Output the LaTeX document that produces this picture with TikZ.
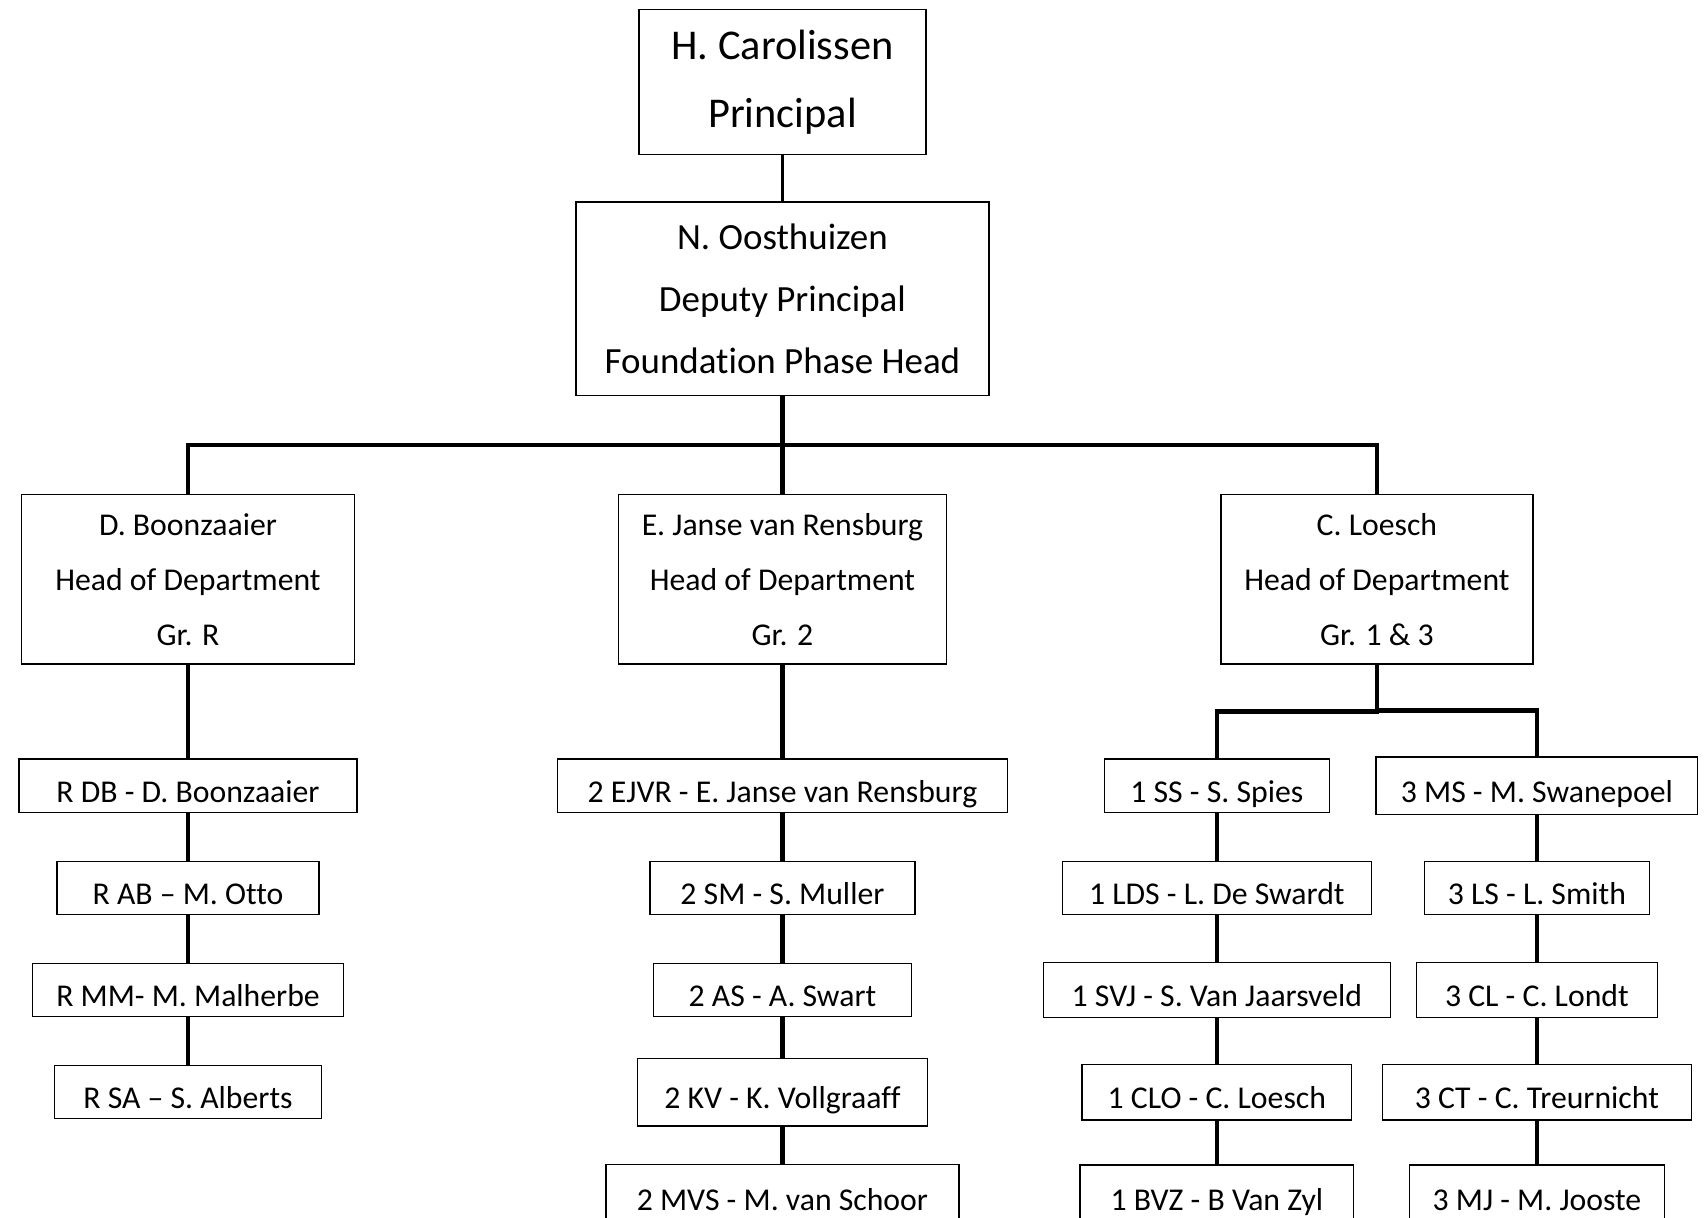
\documentclass[tikz,border=0pt]{standalone}
\usepackage{fontspec}
\setmainfont{Carlito}[Ligatures={TeX,NoCommon,NoContextual}, Contextuals=NoAlternate]
\usetikzlibrary{calc}

\begin{document}
\begin{tikzpicture}[
box/.style={rectangle, draw=black, line width=0.6pt, inner sep=0pt, align=center},
principal/.style={box, font=\fontsize{19.5}{31.5}\selectfont, minimum width=132pt, minimum height=66.5pt},
deputy/.style={box, font=\fontsize{17}{28.5}\selectfont, minimum width=190pt, minimum height=89pt},
hod/.style={box, font=\fontsize{14.6}{25.3}\selectfont, minimum height=78pt},
teacher/.style={box, font=\fontsize{14.6}{17}\selectfont, text height=15pt, text depth=0pt, minimum height=24.5pt},
orgfork/.style={edge from parent path={(\tikzparentnode.south) |- ($(\tikzparentnode.south)!0.5!(\tikzchildnode.north)$) -| (\tikzchildnode.north)}},
edge from parent/.style={draw, line width=1.6pt},
orgfork,
level 1/.style={level distance=99.75pt},
level 2/.style={sibling distance=273.5pt, level distance=129pt, edge from parent/.style={draw, line width=1.9pt}},
level 3/.style={sibling distance=147.25pt, level distance=95pt},
level 4/.style={level distance=47pt},
level 5/.style={level distance=47pt},
level 6/.style={level distance=47pt},
level 7/.style={level distance=47pt},
]
\useasboundingbox (0pt,0pt) rectangle (784pt,-560pt);
\node[principal] (HC) at (360pt,-37.75pt) {H. Carolissen\\Principal}
  child { node[deputy] (NO) {N. Oosthuizen\\Deputy Principal\\Foundation Phase Head}
    child { node[hod, minimum width=153pt] (HodR) {D. Boonzaaier\\Head of Department\\Gr. R}
      child { node[teacher, minimum width=155.5pt] (RDB) {R DB - D. Boonzaaier}
        child { node[teacher, minimum width=120.5pt] (RAB) {R AB -- M. Otto}
          child { node[teacher, minimum width=143pt] (RMM) {R MM- M. Malherbe}
            child { node[teacher, minimum width=123pt] (RSA) {R SA -- S. Alberts} }
          }
        }
      }
    }
    child { node[hod, minimum width=151pt] (Hod2) {E. Janse van Rensburg\\Head of Department\\Gr. 2}
      child { node[teacher, minimum width=207pt] (EJVR) {2 EJVR - E. Janse van Rensburg}
        child { node[teacher, minimum width=122pt] (SM) {2 SM - S. Muller}
          child { node[teacher, minimum width=118.5pt] (AS) {2 AS - A. Swart}
            child { node[teacher, minimum width=133.5pt, minimum height=31pt] (KV) {2 KV - K. Vollgraaff}
              child { node[teacher, minimum width=162.5pt, minimum height=27.5pt] (MVS) {2 MVS - M. van Schoor} }
            }
          }
        }
      }
    }
    child { node[hod, minimum width=143.5pt] (Hod13) {C. Loesch\\Head of Department\\Gr. 1 \& 3}
      child { node[teacher, minimum width=103.5pt] (SS) {1 SS - S. Spies}
        child { node[teacher, minimum width=142pt] (LDS) {1 LDS - L. De Swardt}
          child { node[teacher, minimum width=159.5pt, minimum height=25.5pt] (SVJ) {1 SVJ - S. Van Jaarsveld}
            child { node[teacher, minimum width=124pt, minimum height=25.5pt] (CLO) {1 CLO - C. Loesch}
              child { node[teacher, minimum width=126pt, minimum height=27pt] (BVZ) {1 BVZ - B Van Zyl} }
            }
          }
        }
      }
      child { node[teacher, minimum width=148pt, minimum height=26.5pt] (MS) {3 MS - M. Swanepoel}
        child { node[teacher, minimum width=103.5pt] (LS) {3 LS - L. Smith}
          child { node[teacher, minimum width=111pt, minimum height=25.5pt] (CLt) {3 CL - C. Londt}
            child { node[teacher, minimum width=142pt, minimum height=25.5pt] (CT) {3 CT - C. Treurnicht}
              child { node[teacher, minimum width=117.5pt, minimum height=27pt] (MJ) {3 MJ - M. Jooste} }
            }
          }
        }
      }
    }
  };
\end{tikzpicture}
\end{document}
